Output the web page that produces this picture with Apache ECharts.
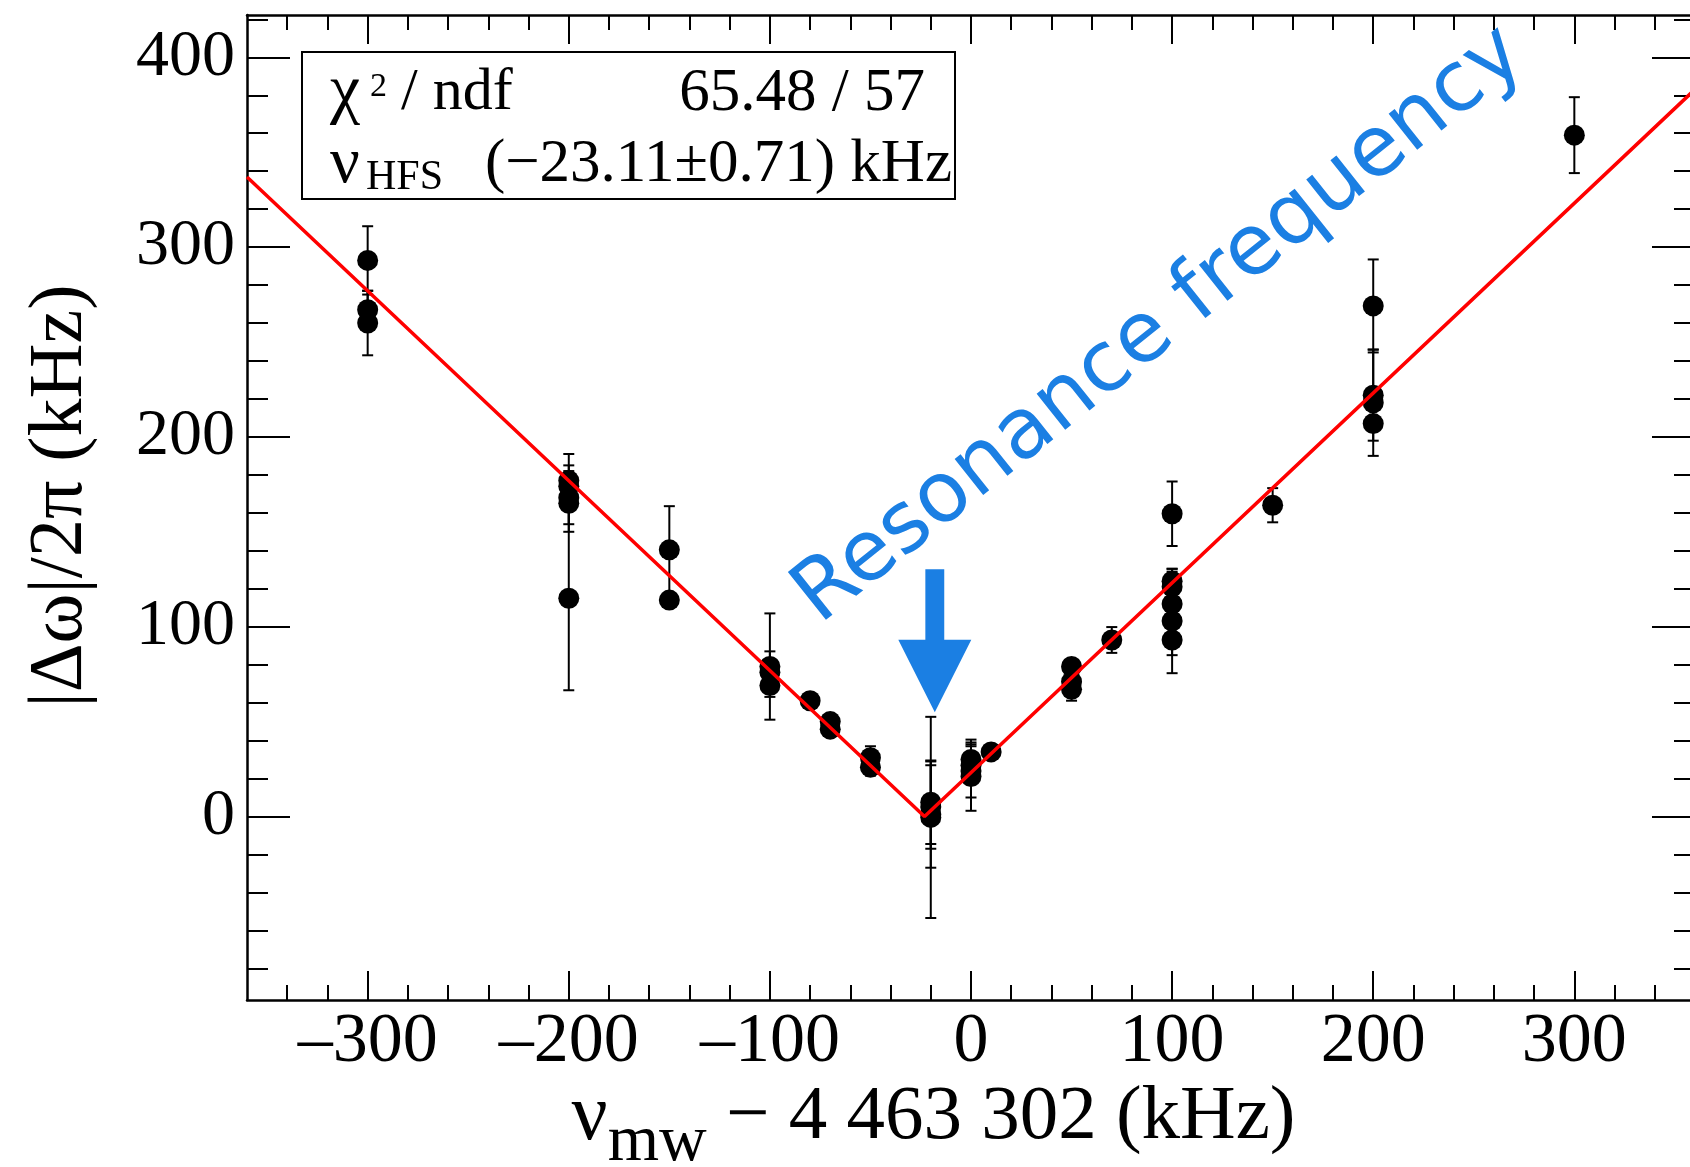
<!DOCTYPE html>
<html><head><meta charset="utf-8">
<script src="https://cdn.jsdelivr.net/npm/echarts@6/dist/echarts.min.js"></script>
<style>html,body{margin:0;padding:0;overflow:hidden;background:#fff}#c{width:1700px;height:1167px}</style>
</head><body><div id="c"></div>
<script>
// ---- data ----
const xMajorTicks = [-300, -200, -100, 0, 100, 200, 300];
const xMinorTicks = [-340, -320, -280, -260, -240, -220, -180, -160, -140, -120, -80, -60, -40, -20,
  20, 40, 60, 80, 120, 140, 160, 180, 220, 240, 260, 280, 320, 340];
const yMajorTicks = [0, 100, 200, 300, 400];
const yMinorTicks = [-80, -60, -40, -20, 20, 40, 60, 80, 120, 140, 160, 180, 220, 240, 260, 280, 320, 340, 360, 380, 420];

const pointX = [-300, -300, -300,
  -200, -200, -200, -200, -200,
  -150, -150,
  -100, -100, -100,
  -80,
  -70, -70,
  -50, -50,
  -20, -20, -20, -20,
  0, 0, 0, 0,
  10,
  50, 50, 50,
  70,
  100, 100, 100, 100, 100, 100,
  150,
  200, 200, 200, 200,
  300];
const pointY = [293, 267, 260,
  177, 174, 168, 165, 115,
  140.5, 114,
  79, 76, 69,
  61,
  50, 46,
  31, 26,
  7.5, 5, 1, -0.5,
  30, 27, 24, 21,
  34,
  79, 71, 67,
  93,
  159.5, 124, 121, 112, 103, 93,
  164,
  269, 222, 218, 207,
  359];
const pointErr = [18, 10, 17,
  14, 11, 14, 15, 48.5,
  23, 3,
  28, 11, 6,
  2,
  3, 3,
  6, 4.5,
  22, 22, 28, 53,
  10.5, 10, 14, 18,
  3,
  3, 4, 6,
  6.8,
  17, 6.5, 8, 10, 27.5, 8,
  9,
  24.5, 24, 28, 3,
  20];
const fitX = [-360, -23.11, 360];
const fitY = [336.89, 0, 383.11];

const statsLabels = ['χ', '2', ' / ndf', 'ν', 'HFS'];
const statsValues = ['65.48 / 57', '(−23.11±0.71) kHz'];
const annotationText = 'Resonance frequency';

// ---- chart ----
const SERIF = '"Liberation Serif", "Times New Roman", serif';
const BLUE = '#1b7fe3';
const points = pointX.map((x, i) => [x, pointY[i], pointErr[i]]);
const fit = fitX.map((x, i) => [x, fitY[i]]);

const X_MIN = -360, X_MAX = 360, Y_MIN = -96.7, Y_MAX = 422.3;

function xAxisDef(pos, ticks, len, showLine, showLabel, extra) {
  return Object.assign({
    type: 'value', position: pos, min: X_MIN, max: X_MAX,
    axisLine: { show: showLine, onZero: false, lineStyle: { color: '#000', width: 2.5 } },
    axisTick: { show: true, inside: true, length: len, customValues: ticks, lineStyle: { color: '#000', width: 2 } },
    axisLabel: { show: showLabel, customValues: ticks },
    splitLine: { show: false }
  }, extra || {});
}
function yAxisDef(pos, ticks, len, showLine, showLabel, extra) {
  return Object.assign({
    type: 'value', position: pos, min: Y_MIN, max: Y_MAX,
    axisLine: { show: showLine, onZero: false, lineStyle: { color: '#000', width: 2.5 } },
    axisTick: { show: true, inside: true, length: len, customValues: ticks, lineStyle: { color: '#000', width: 2 } },
    axisLabel: { show: showLabel, customValues: ticks },
    splitLine: { show: false }
  }, extra || {});
}

const chart = echarts.init(document.getElementById('c'), null, { renderer: 'canvas' });
chart.setOption({
  animation: false,
  backgroundColor: '#fff',
  grid: { left: 247, right: 5, top: 15, bottom: 167, containLabel: false, outerBoundsMode: 'none' },
  xAxis: [
    xAxisDef('bottom', xMajorTicks, 29, true, true, {
      axisLabel: {
        show: true, customValues: xMajorTicks, margin: 8, color: '#000',
        fontFamily: SERIF, fontSize: 70,
        formatter: v => String(v).replace('-', '–')
      },
      name: '{nu|ν}{sub|mw}{t| − 4 463 302 (kHz)}',
      nameLocation: 'middle', nameGap: 60, nameMoveOverlap: false,
      nameTextStyle: {
        color: '#000', fontFamily: SERIF, fontSize: 77, padding: [0, 75, 0, 0],
        rich: {
          nu: { fontFamily: SERIF, fontSize: 80, lineHeight: 116, color: '#000' },
          sub: { fontFamily: SERIF, fontSize: 66, lineHeight: 64, verticalAlign: 'bottom', color: '#000' },
          t: { fontFamily: SERIF, fontSize: 77, lineHeight: 116, color: '#000' }
        }
      }
    }),
    xAxisDef('bottom', xMinorTicks, 15, false, false),
    xAxisDef('top', xMajorTicks, 29, true, false),
    xAxisDef('top', xMinorTicks, 15, false, false)
  ],
  yAxis: [
    yAxisDef('left', yMajorTicks, 43, true, true, {
      axisLabel: {
        show: true, customValues: yMajorTicks, margin: 12, color: '#000',
        fontFamily: SERIF, fontSize: 66
      },
      name: '|Δω|/2π (kHz)',
      nameLocation: 'middle', nameGap: 148, nameMoveOverlap: false,
      nameTextStyle: { color: '#000', fontFamily: SERIF, fontSize: 76, padding: [0, 0, 0, 23] }
    }),
    yAxisDef('left', yMinorTicks, 21, false, false),
    yAxisDef('right', yMajorTicks, 43, true, false),
    yAxisDef('right', yMinorTicks, 21, false, false)
  ],
  series: [
    {
      type: 'custom', xAxisIndex: 0, yAxisIndex: 0, z: 2,
      data: points,
      renderItem: function (params, api) {
        const x = api.value(0), y = api.value(1), e = api.value(2);
        const top = api.coord([x, y + e]);
        const bot = api.coord([x, y - e]);
        const cap = 5.5;
        const st = { stroke: '#000', lineWidth: 2 };
        return {
          type: 'group', children: [
            { type: 'line', shape: { x1: top[0], y1: top[1], x2: bot[0], y2: bot[1] }, style: st },
            { type: 'line', shape: { x1: top[0] - cap, y1: top[1], x2: top[0] + cap, y2: top[1] }, style: st },
            { type: 'line', shape: { x1: bot[0] - cap, y1: bot[1], x2: bot[0] + cap, y2: bot[1] }, style: st }
          ]
        };
      }
    },
    {
      type: 'scatter', xAxisIndex: 0, yAxisIndex: 0, z: 3,
      data: points.map(p => [p[0], p[1]]),
      symbol: 'circle', symbolSize: 21,
      itemStyle: { color: '#000', opacity: 1 },
      emphasis: { disabled: true },
      markPoint: {
        silent: true,
        symbol: 'path://M27.2,0 L46.2,0 L46.2,70.3 L73.4,70.3 L36.7,142.7 L0,70.3 L27.2,70.3 Z',
        symbolSize: [73, 143],
        itemStyle: { color: BLUE, opacity: 1 },
        label: { show: false },
        data: [{ coord: [-18, 92.6] }]
      }
    },
    {
      type: 'line', xAxisIndex: 0, yAxisIndex: 0, z: 4,
      data: fit, symbol: 'none',
      lineStyle: { color: '#ff0000', width: 3.5 }
    }
  ],
  graphic: [
    { type: 'rect', z: 100, shape: { x: 302, y: 52, width: 653, height: 147 },
      style: { fill: '#fff', stroke: '#000', lineWidth: 2 } },
    { type: 'text', z: 101, x: 330, y: 93.5, style: { text: statsLabels[0], font: '68px ' + SERIF, fill: '#000', textAlign: 'left', textVerticalAlign: 'middle' } },
    { type: 'text', z: 101, x: 370, y: 87.5, style: { text: statsLabels[1], font: '34px ' + SERIF, fill: '#000', textAlign: 'left', textVerticalAlign: 'middle' } },
    { type: 'text', z: 101, x: 386, y: 93.5, style: { text: statsLabels[2], font: '60px ' + SERIF, fill: '#000', textAlign: 'left', textVerticalAlign: 'middle' } },
    { type: 'text', z: 101, x: 925, y: 93.5, style: { text: statsValues[0], font: '61px ' + SERIF, fill: '#000', textAlign: 'right', textVerticalAlign: 'middle' } },
    { type: 'text', z: 101, x: 330, y: 164.5, style: { text: statsLabels[3], font: '66px ' + SERIF, fill: '#000', textAlign: 'left', textVerticalAlign: 'middle' } },
    { type: 'text', z: 101, x: 366, y: 178, style: { text: statsLabels[4], font: '42px ' + SERIF, fill: '#000', textAlign: 'left', textVerticalAlign: 'middle' } },
    { type: 'text', z: 101, x: 952, y: 164.5, style: { text: statsValues[1], font: '61px ' + SERIF, fill: '#000', textAlign: 'right', textVerticalAlign: 'middle' } },
    { type: 'text', z: 101, x: 806, y: 608, rotation: 38.5 * Math.PI / 180,
      style: { text: annotationText, font: '84px "DejaVu Sans", sans-serif', fill: BLUE, textAlign: 'left', textVerticalAlign: 'middle' } }
  ]
});
</script>
</body></html>
